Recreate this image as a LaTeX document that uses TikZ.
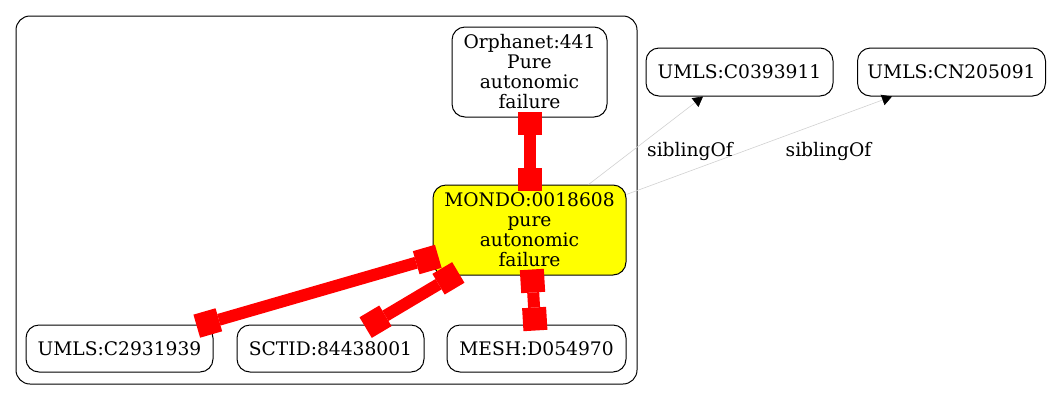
\documentclass[tikz,border=0pt]{standalone}
\usepackage{fontspec}
\setmainfont{DejaVu Serif}
\usetikzlibrary{arrows.meta}
\definecolor{gvyellow}{RGB}{255,255,0}
\definecolor{gvred}{RGB}{255,0,0}
\begin{document}
\begin{tikzpicture}[x=1pt,y=-1pt,
  box/.style={draw=black, line width=1pt, rounded corners=13pt, inner sep=0pt, align=center, font=\fontsize{18.67}{20}\selectfont},
  sz/.style 2 args={minimum width=#1pt, minimum height=#2pt},
  redlink/.style={draw=gvred, line width=12pt,
    {Square[length=23pt,width=24pt,line width=0pt]}-{Square[length=23pt,width=24pt,line width=0pt]},
    shorten <=-6pt, shorten >=-6pt},
  sib/.style={draw=black!18, line width=0.6pt, -{Triangle[length=10pt,width=11pt,color=black]}},
  lbl/.style={font=\fontsize{18.67}{20}\selectfont, inner sep=0pt}]
\useasboundingbox (0,0) rectangle (1054,400);
\node[draw=black, line width=1pt, rounded corners=14pt, inner sep=0pt, minimum width=621pt, minimum height=368pt] (cluster) at (326.5,200) {};
\node[box, sz={155}{90}] (orph) at (529.5,72) {Orphanet:441\\Pure\\autonomic\\failure};
\node[box, fill=gvyellow, sz={193}{90}] (mondo) at (529.5,230) {MONDO:0018608\\pure\\autonomic\\failure};
\node[box, sz={187}{47}] (u1) at (119.5,348.5) {UMLS:C2931939};
\node[box, sz={187}{47}] (sct) at (330.5,348.5) {SCTID:84438001};
\node[box, sz={179}{47}] (mesh) at (536.5,348.5) {MESH:D054970};
\node[box, sz={187}{48}] (c1) at (739.5,72) {UMLS:C0393911};
\node[box, sz={188}{48}] (c2) at (951.5,72) {UMLS:CN205091};
\draw[redlink] (orph) -- (mondo);
\draw[redlink] (mondo) -- (u1);
\draw[redlink] (mondo) -- (sct);
\draw[redlink] (mondo) -- (mesh);
\draw[sib] (mondo) -- ([xshift=-36.5pt]c1.south);
\draw[sib] (mondo) -- ([xshift=-59.5pt]c2.south);
\node[lbl] (l1) at (690,151) {siblingOf};
\node[lbl] (l2) at (828.5,151) {siblingOf};
\end{tikzpicture}
\end{document}
